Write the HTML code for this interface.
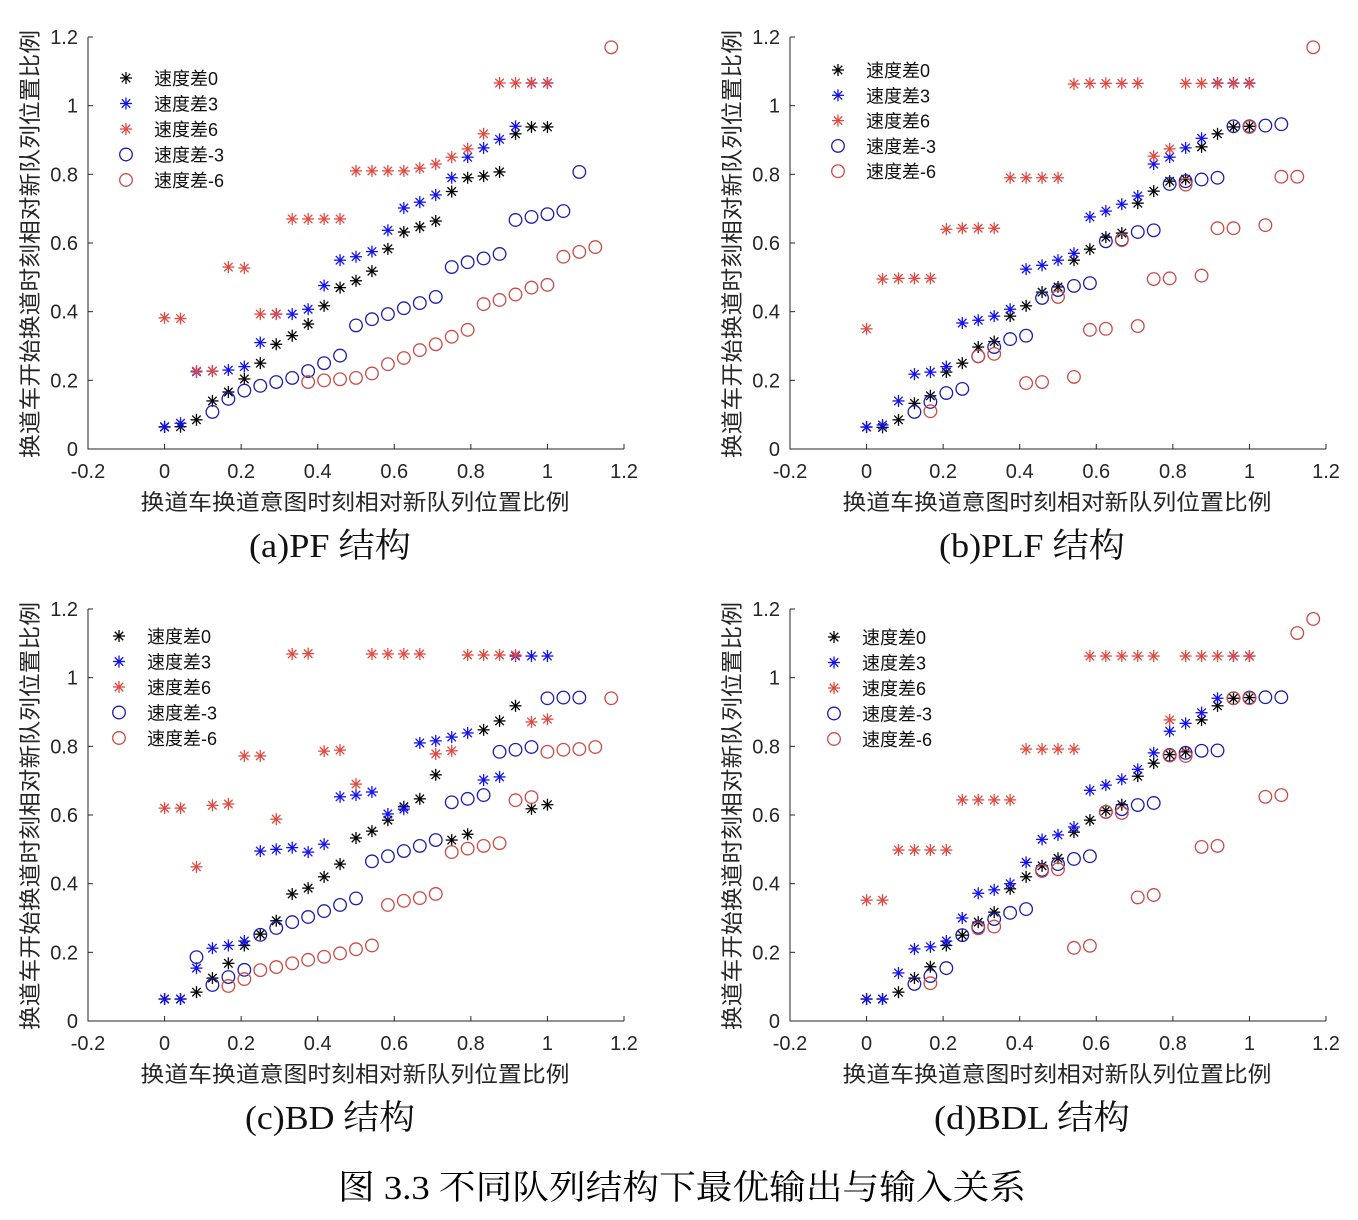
<!DOCTYPE html>
<html><head><meta charset="utf-8">
<style>
html,body{margin:0;padding:0;background:#fff;}
svg{display:block;}
text{font-family:"Liberation Sans","Noto Sans CJK SC",sans-serif;}
.serif{font-family:"Liberation Serif","Noto Serif CJK SC",serif;}
</style></head>
<body>
<svg id="fig" width="1358" height="1220" viewBox="0 0 1358 1220" xmlns="http://www.w3.org/2000/svg">
<rect x="0" y="0" width="1358" height="1220" fill="#fff"/>
<text class="serif" x="682" y="1199" font-size="34" text-anchor="middle" textLength="688" lengthAdjust="spacingAndGlyphs">图 3.3  不同队列结构下最优输出与输入关系</text>
</svg>
<script>
// shared data
const xTicks = [-0.2, 0, 0.2, 0.4, 0.6, 0.8, 1, 1.2];
const yTicks = [0, 0.2, 0.4, 0.6, 0.8, 1, 1.2];
const xTickLabels = ["-0.2","0","0.2","0.4","0.6","0.8","1","1.2"];
const yTickLabels = ["0","0.2","0.4","0.6","0.8","1","1.2"];
const seriesNames = ["速度差0","速度差3","速度差6","速度差-3","速度差-6"];
const xStepDenom = 24; // x value = index / 24

// (a) PF
const a0 = [0.064,0.065,0.085,0.14,0.166,0.204,0.25,0.305,0.33,0.364,0.417,0.47,0.49,0.518,0.583,0.632,0.647,0.664,0.75,0.79,0.795,0.807,0.918,0.938,0.938];
const a3 = [0.065,0.075,0.225,0.227,0.23,0.24,0.31,0.393,0.393,0.407,0.476,0.55,0.56,0.575,0.637,0.702,0.719,0.74,0.79,0.85,0.877,0.902,0.94,1.066,1.066];
const a6 = [0.382,0.38,0.227,0.227,0.53,0.527,0.393,0.393,0.67,0.67,0.67,0.67,0.81,0.81,0.81,0.81,0.818,0.83,0.85,0.874,0.918,1.066,1.066,1.066,1.066];
const am3 = [null,null,null,0.108,0.146,0.17,0.184,0.195,0.207,0.227,0.25,0.272,0.36,0.378,0.393,0.41,0.425,0.443,0.53,0.544,0.555,0.568,0.667,0.676,0.684,0.693,0.807];
const am6 = [null,null,null,null,null,null,null,null,null,0.195,0.2,0.203,0.207,0.22,0.247,0.265,0.288,0.305,0.327,0.347,0.422,0.434,0.45,0.47,0.478,0.56,0.574,0.588,1.17];

// (b) PLF
const b0 = [0.064,0.063,0.085,0.133,0.155,0.224,0.25,0.297,0.313,0.387,0.417,0.457,0.472,0.55,0.582,0.617,0.629,0.716,0.751,0.78,0.786,0.88,0.918,0.938,0.94];
const b3 = [0.064,0.07,0.14,0.218,0.224,0.24,0.367,0.375,0.387,0.407,0.524,0.535,0.55,0.57,0.676,0.693,0.713,0.737,0.83,0.85,0.877,0.905,1.066,1.066,1.066];
const b6 = [0.35,0.495,0.497,0.497,0.497,0.64,0.643,0.643,0.643,0.79,0.79,0.79,0.79,1.063,1.065,1.065,1.065,1.065,0.853,0.874,1.065,1.065,1.065,1.065,1.065];
const bm3 = [null,null,null,0.108,0.137,0.163,0.175,0.27,0.297,0.32,0.33,0.44,0.463,0.475,0.483,0.605,0.61,0.632,0.637,0.772,0.78,0.785,0.79,0.94,0.94,0.942,0.946];
const bm6 = [null,null,null,null,0.11,null,null,0.27,0.277,null,0.192,0.195,0.443,0.21,0.347,0.35,0.608,0.358,0.495,0.497,0.77,0.505,0.643,0.643,0.938,0.652,0.793,0.793,1.17];

// (c) BD
const c0 = [0.064,0.064,0.084,0.125,0.168,0.22,0.253,0.292,0.37,0.387,0.42,0.457,0.533,0.553,0.585,0.624,0.647,0.717,0.527,0.544,0.848,0.874,0.918,0.618,0.63];
const c3 = [0.064,0.064,0.154,0.212,0.22,0.233,0.495,0.5,0.505,0.492,0.515,0.653,0.658,0.667,0.603,0.617,0.81,0.816,0.827,0.839,0.702,0.711,1.063,1.063,1.063];
const c6 = [0.62,0.62,0.449,0.628,0.632,0.772,0.772,0.588,1.069,1.07,0.786,0.789,0.69,1.069,1.069,1.069,1.069,0.778,0.787,1.066,1.066,1.066,1.066,0.871,0.879];
const cm3 = [null,null,0.186,0.105,0.128,0.149,0.251,0.271,0.288,0.303,0.32,0.338,0.357,0.465,0.48,0.495,0.51,0.527,0.637,0.647,0.658,0.784,0.79,0.798,0.94,0.942,0.942];
const cm6 = [null,null,null,null,0.102,0.122,0.148,0.157,0.168,0.178,0.187,0.197,0.209,0.22,0.338,0.35,0.358,0.37,0.492,0.502,0.51,0.518,0.643,0.652,0.784,0.79,0.792,0.798,0.94];

// (d) BDL
const d0 = [0.064,0.064,0.084,0.125,0.158,0.22,0.25,0.288,0.317,0.385,0.42,0.452,0.474,0.55,0.585,0.613,0.63,0.713,0.751,0.776,0.784,0.877,0.918,0.94,0.942];
const d3 = [0.064,0.064,0.14,0.21,0.216,0.233,0.3,0.372,0.382,0.4,0.462,0.529,0.542,0.565,0.672,0.687,0.704,0.733,0.781,0.844,0.867,0.898,0.94,1.063,1.063];
const d6 = [0.352,0.352,0.498,0.498,0.498,0.498,0.644,0.644,0.644,0.644,0.792,0.792,0.792,0.792,1.063,1.063,1.063,1.063,1.063,0.877,1.063,1.063,1.063,1.063,1.063];
const dm3 = [null,null,null,0.108,0.131,0.154,0.25,0.274,0.297,0.315,0.326,0.44,0.457,0.472,0.48,0.609,0.617,0.629,0.635,0.775,0.781,0.787,0.788,0.94,0.942,0.943,0.943];
const dm6 = [null,null,null,null,0.11,null,null,0.27,0.275,null,null,0.437,0.442,0.213,0.219,0.609,0.606,0.36,0.367,0.773,0.772,0.507,0.51,0.94,0.94,0.653,0.658,1.13,1.171];

const NS = "http://www.w3.org/2000/svg";
const svg = document.getElementById("fig");
const colors = ["#000000","#1010f0","#e2483e","#1c1cb0","#cc4a44"];
const kinds = ["star","star","star","circle","circle"];

function mk(tag, parent){ const e=document.createElementNS(NS,tag); parent.appendChild(e); return e; }

function drawStar(g, cx, cy, color){
  const s = mk("g", g);
  
  
  const r = 6;
  for (let i=0;i<4;i++){
    const ang = i*Math.PI/4;
    const l = mk("line", s);
    l.setAttribute("x1", cx - r*Math.cos(ang)); l.setAttribute("y1", cy - r*Math.sin(ang));
    l.setAttribute("x2", cx + r*Math.cos(ang)); l.setAttribute("y2", cy + r*Math.sin(ang));
    l.setAttribute("stroke", color); l.setAttribute("stroke-width", "1.3");
  }
}
function drawCircle(g, cx, cy, color){
  const c = mk("circle", g);
  
  
  c.setAttribute("cx", cx); c.setAttribute("cy", cy); c.setAttribute("r", 6.3);
  c.setAttribute("fill", "none"); c.setAttribute("stroke", color); c.setAttribute("stroke-width", "1.3");
}

function panel(cfg, series){
  const g = mk("g", svg);
  
  
  const X = v => cfg.L + (v - (-0.2)) / 1.4 * (cfg.R - cfg.L);
  const Y = v => cfg.B - v / 1.2 * (cfg.B - cfg.T);
  const ax = mk("path", g);
  
  
  ax.setAttribute("d", `M${cfg.L},${cfg.T}V${cfg.B}H${cfg.R}`);
  ax.setAttribute("stroke", "#262626"); ax.setAttribute("fill","none"); ax.setAttribute("stroke-width","1");
  xTicks.forEach((t,i)=>{
    const x = X(t);
    const tk = mk("line", g);
    
    
    tk.setAttribute("x1",x);tk.setAttribute("x2",x);tk.setAttribute("y1",cfg.B);tk.setAttribute("y2",cfg.B-5);
    tk.setAttribute("stroke","#262626");
    const tl = mk("text", g);
    
    
    tl.setAttribute("x",x);tl.setAttribute("y",cfg.B+29);tl.setAttribute("font-size","20");
    tl.setAttribute("text-anchor","middle");tl.setAttribute("fill","#262626");
    tl.textContent = xTickLabels[i];
  });
  yTicks.forEach((t,i)=>{
    const y = Y(t);
    const tk = mk("line", g);
    
    
    tk.setAttribute("x1",cfg.L);tk.setAttribute("x2",cfg.L+5);tk.setAttribute("y1",y);tk.setAttribute("y2",y);
    tk.setAttribute("stroke","#262626");
    const tl = mk("text", g);
    
    
    tl.setAttribute("x",cfg.L-10);tl.setAttribute("y",y+7);tl.setAttribute("font-size","20");
    tl.setAttribute("text-anchor","end");tl.setAttribute("fill","#262626");
    tl.textContent = yTickLabels[i];
  });
  const xl = mk("text", g);
  
  
  xl.setAttribute("x", (cfg.L+cfg.R)/2 - 1); xl.setAttribute("y", cfg.B+61);
  xl.setAttribute("font-size","22"); xl.setAttribute("text-anchor","middle"); xl.setAttribute("fill","#262626");
  xl.setAttribute("textLength","429"); xl.setAttribute("lengthAdjust","spacingAndGlyphs");
  xl.textContent = "换道车换道意图时刻相对新队列位置比例";
  const yl = mk("text", g);
  
  
  const ycx = cfg.L - 50, ycy = (cfg.T+cfg.B)/2 + 1;
  yl.setAttribute("x", ycx); yl.setAttribute("y", ycy);
  yl.setAttribute("transform", `rotate(-90 ${ycx} ${ycy})`);
  yl.setAttribute("font-size","22"); yl.setAttribute("text-anchor","middle"); yl.setAttribute("fill","#262626");
  yl.setAttribute("textLength","428"); yl.setAttribute("lengthAdjust","spacingAndGlyphs");
  yl.textContent = "换道车开始换道时刻相对新队列位置比例";
  series.forEach((arr, si)=>{
    const sg = mk("g", g);
    
    
    arr.forEach((v,k)=>{
      if (v === null) return;
      const px = X(k / xStepDenom), py = Y(v);
      if (kinds[si]==="star") drawStar(sg, px, py, colors[si]); else drawCircle(sg, px, py, colors[si]);
    });
  });
  const lg = mk("g", g);
  
  
  seriesNames.forEach((n,i)=>{
    const y = cfg.legY + i*cfg.legStep;
    const e = mk("g", lg);
    
    
    if (kinds[i]==="star") drawStar(e, cfg.legX, y, colors[i]); else drawCircle(e, cfg.legX, y, colors[i]);
    const t = mk("text", e);
    
    
    t.setAttribute("x", cfg.legX + 28); t.setAttribute("y", y+7);
    t.setAttribute("font-size","18"); t.setAttribute("fill","#111");
    t.textContent = n;
  });
  const st = mk("text", g);
  
  
  st.setAttribute("class","serif");
  st.setAttribute("x", cfg.titleX); st.setAttribute("y", cfg.B+108);
  st.setAttribute("font-size","34"); st.setAttribute("text-anchor","middle"); st.setAttribute("fill","#111");
  st.setAttribute("textLength", cfg.titleW); st.setAttribute("lengthAdjust","spacingAndGlyphs");
  st.textContent = cfg.title;
}

panel({name:"panel-a-pf", L:88, R:624, T:37, B:449, legX:126, legY:78, legStep:25.5, titleX:330, titleW:162, title:"(a)PF 结构"}, [a0,a3,a6,am3,am6]);
panel({name:"panel-b-plf", L:790, R:1326, T:37, B:449, legX:838, legY:70, legStep:25.3, titleX:1032, titleW:186, title:"(b)PLF 结构"}, [b0,b3,b6,bm3,bm6]);
panel({name:"panel-c-bd", L:88, R:624, T:609, B:1021, legX:119, legY:636, legStep:25.5, titleX:330, titleW:170, title:"(c)BD 结构"}, [c0,c3,c6,cm3,cm6]);
panel({name:"panel-d-bdl", L:790, R:1326, T:609, B:1021, legX:834, legY:637, legStep:25.5, titleX:1032, titleW:196, title:"(d)BDL 结构"}, [d0,d3,d6,dm3,dm6]);
</script>
</body></html>
